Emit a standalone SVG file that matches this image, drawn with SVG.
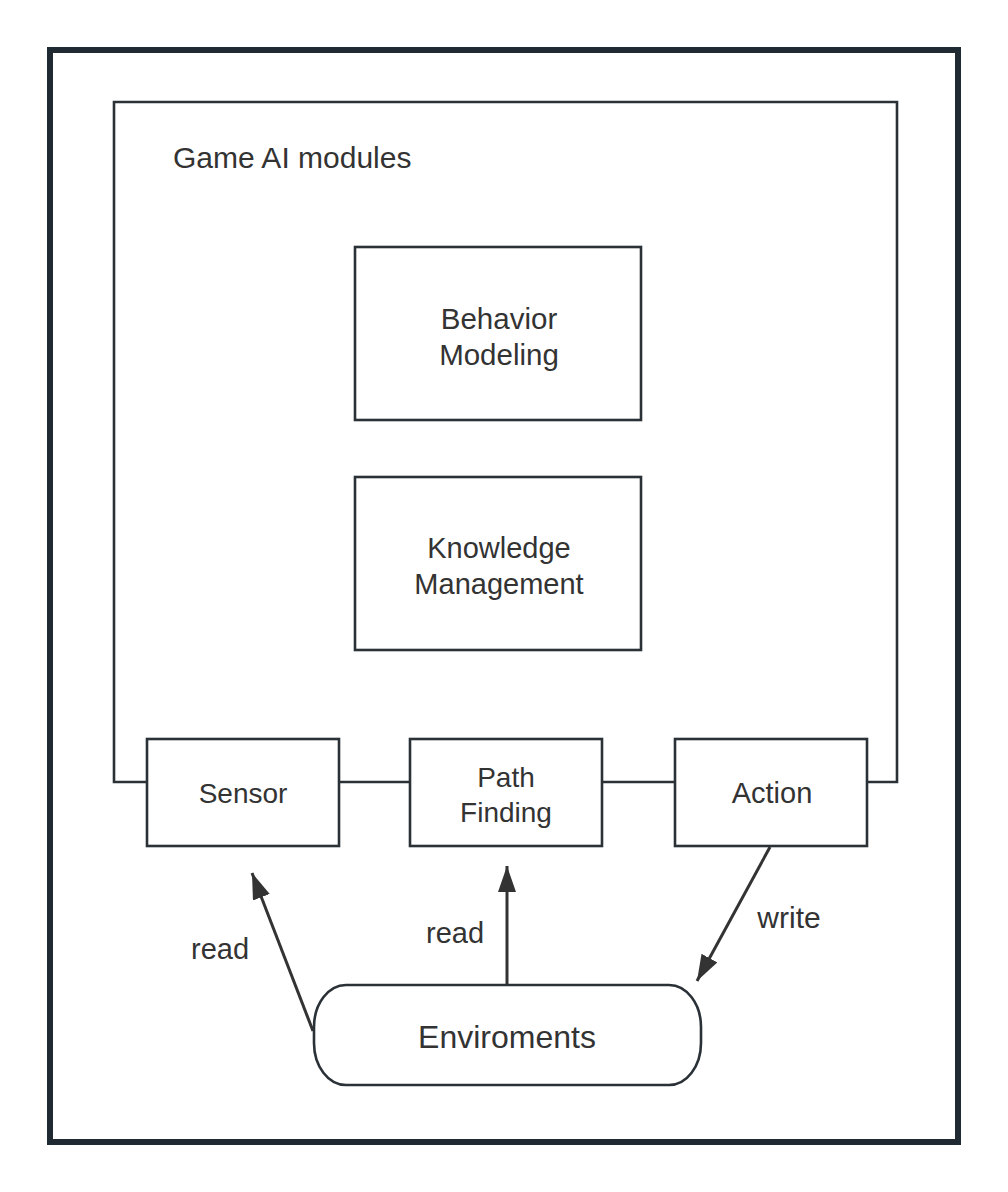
<svg xmlns="http://www.w3.org/2000/svg" width="1008" height="1192" viewBox="0 0 1008 1192">
  <style>
    .box { fill: #ffffff; stroke: #2a3137; stroke-width: 2.6; }
    .lbl { font-family: "Liberation Sans", "DejaVu Sans", sans-serif; fill: #333333; text-anchor: middle; }
    .wire { fill: none; stroke: #2a3137; stroke-width: 2.6; }
    .arrow { fill: none; stroke: #333333; stroke-width: 3; }
  </style>
  <defs>
    <marker id="head" markerUnits="userSpaceOnUse" markerWidth="28" markerHeight="20" refX="26" refY="9" orient="auto">
      <path d="M0,0 L26,9 L0,18 Z" fill="#333333"/>
    </marker>
  </defs>
  <rect x="0" y="0" width="1008" height="1192" fill="#ffffff"/>
  <rect id="frame" x="50" y="50" width="908" height="1092" fill="none" stroke="#1f2a33" stroke-width="6"/>

  <g id="game-ai-modules">
    <path class="wire" d="M147,782 H114 V102 H897 V782 H867"/>
    <text class="lbl" x="173" y="168" font-size="30" style="text-anchor:start">Game AI modules</text>
  </g>

  <g id="connectors">
    <line class="wire" x1="339" y1="782" x2="410" y2="782"/>
    <line class="wire" x1="602" y1="782" x2="675" y2="782"/>
    <line class="arrow" x1="313" y1="1031" x2="252" y2="873" marker-end="url(#head)"/>
    <line class="arrow" x1="507" y1="985" x2="507" y2="866" marker-end="url(#head)"/>
    <line class="arrow" x1="770" y1="847" x2="697" y2="981" marker-end="url(#head)"/>
    <text class="lbl" x="220" y="959" font-size="29">read</text>
    <text class="lbl" x="455" y="943" font-size="29">read</text>
    <text class="lbl" x="789" y="928" font-size="30">write</text>
  </g>

  <g id="behavior-modeling">
    <rect class="box" x="355" y="247" width="286" height="173"/>
    <text class="lbl" x="499" y="329" font-size="29.5">Behavior</text>
    <text class="lbl" x="499" y="365" font-size="29.5">Modeling</text>
  </g>

  <g id="knowledge-management">
    <rect class="box" x="355" y="477" width="286" height="173"/>
    <text class="lbl" x="499" y="558" font-size="29">Knowledge</text>
    <text class="lbl" x="499" y="594" font-size="29">Management</text>
  </g>

  <g id="sensor">
    <rect class="box" x="147" y="739" width="192" height="107"/>
    <text class="lbl" x="243" y="803" font-size="28">Sensor</text>
  </g>

  <g id="path-finding">
    <rect class="box" x="410" y="739" width="192" height="107"/>
    <text class="lbl" x="506" y="787" font-size="28">Path</text>
    <text class="lbl" x="506" y="822" font-size="28">Finding</text>
  </g>

  <g id="action">
    <rect class="box" x="675" y="739" width="192" height="107"/>
    <text class="lbl" x="772" y="803" font-size="29">Action</text>
  </g>

  <g id="enviroments">
    <rect class="box" x="314" y="985" width="387" height="100" rx="32" ry="42"/>
    <text class="lbl" x="507" y="1048" font-size="32">Enviroments</text>
  </g>
</svg>
